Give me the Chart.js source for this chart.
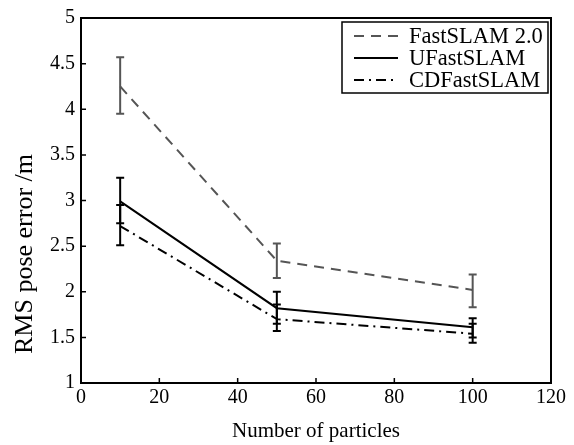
<!DOCTYPE html>
<html>
<head>
<meta charset="utf-8">
<script src="https://cdn.jsdelivr.net/npm/chart.js@4"></script>
<style>
  html, body { margin: 0; padding: 0; background: #fff; }
  #wrap { width: 574px; height: 445px; }
</style>
</head>
<body>
<div id="wrap"><canvas id="grafica" width="574" height="445"></canvas></div>
<script>
// Datos
const particulas = [10, 50, 100];
const nombres = ['FastSLAM 2.0', 'UFastSLAM', 'CDFastSLAM'];
const tituloY = 'RMS pose error /m';

const fastMedia = [4.25, 2.34, 2.02];
const fastMin = [3.95, 2.15, 1.83];
const fastMax = [4.57, 2.53, 2.19];

const ufastMedia = [2.99, 1.82, 1.61];
const ufastMin = [2.75, 1.65, 1.50];
const ufastMax = [3.25, 2.00, 1.71];

const cdMedia = [2.72, 1.70, 1.54];
const cdMin = [2.51, 1.57, 1.44];
const cdMax = [2.95, 1.86, 1.65];

const fuente = "'Liberation Serif', 'Times New Roman', serif";

function puntos(ys) {
  return particulas.map((x, i) => ({ x: x, y: ys[i] }));
}

// Barras de error, marco, titulo Y y leyenda
const extras = {
  id: 'extras',
  afterDatasetsDraw(chart) {
    const ctx = chart.ctx;
    const xs = chart.scales.x, ys = chart.scales.y;
    const area = chart.chartArea;
    ctx.save();

    // barras de error
    chart.data.datasets.forEach(ds => {
      ctx.strokeStyle = ds.borderColor;
      ctx.lineWidth = 2;
      ctx.setLineDash([]);
      particulas.forEach((x, i) => {
        const px = xs.getPixelForValue(x);
        const y1 = ys.getPixelForValue(ds.bajos[i]);
        const y2 = ys.getPixelForValue(ds.altos[i]);
        ctx.beginPath();
        ctx.moveTo(px, y1); ctx.lineTo(px, y2);
        ctx.moveTo(px - 4, y1); ctx.lineTo(px + 4, y1);
        ctx.moveTo(px - 4, y2); ctx.lineTo(px + 4, y2);
        ctx.stroke();
      });
    });

    // marco
    ctx.strokeStyle = '#000';
    ctx.lineWidth = 2;
    ctx.strokeRect(area.left, area.top, area.right - area.left, area.bottom - area.top);

    // marcas hacia dentro
    ctx.lineWidth = 1.5;
    ctx.beginPath();
    xs.ticks.forEach(t => {
      const px = xs.getPixelForValue(t.value);
      ctx.moveTo(px, area.bottom); ctx.lineTo(px, area.bottom - 5);
    });
    ys.ticks.forEach(t => {
      const py = ys.getPixelForValue(t.value);
      ctx.moveTo(area.left, py); ctx.lineTo(area.left + 5, py);
    });
    ctx.stroke();

    // titulo del eje Y
    ctx.fillStyle = '#000';
    ctx.font = '26px ' + fuente;
    ctx.textAlign = 'center';
    ctx.textBaseline = 'middle';
    ctx.translate(25, area.top + 236);
    ctx.rotate(-Math.PI / 2);
    ctx.fillText(tituloY, 0, 0);
    ctx.setTransform(1, 0, 0, 1, 0, 0);

    // leyenda
    const lx = area.right - 209, ly = area.top + 4, lw = 206, lh = 71;
    ctx.fillStyle = '#fff';
    ctx.fillRect(lx, ly, lw, lh);
    ctx.strokeStyle = '#000';
    ctx.lineWidth = 1.5;
    ctx.strokeRect(lx, ly, lw, lh);
    ctx.font = '22.5px ' + fuente;
    ctx.textAlign = 'left';
    ctx.textBaseline = 'middle';
    chart.data.datasets.forEach((ds, i) => {
      const cy = ly + 14 + i * 22;
      ctx.strokeStyle = ds.borderColor;
      ctx.lineWidth = 2;
      ctx.setLineDash(ds.borderDash || []);
      ctx.beginPath();
      ctx.moveTo(lx + 12, cy); ctx.lineTo(lx + 56, cy);
      ctx.stroke();
      ctx.setLineDash([]);
      ctx.fillStyle = '#000';
      ctx.fillText(ds.label, lx + 67, cy + 1);
    });
    ctx.restore();
  }
};

new Chart(document.getElementById('grafica'), {
  type: 'line',
  data: {
    datasets: [
      { label: nombres[0], data: puntos(fastMedia), bajos: fastMin, altos: fastMax,
        borderColor: '#555555', borderDash: [10, 7], borderWidth: 2 },
      { label: nombres[1], data: puntos(ufastMedia), bajos: ufastMin, altos: ufastMax,
        borderColor: '#000000', borderWidth: 2 },
      { label: nombres[2], data: puntos(cdMedia), bajos: cdMin, altos: cdMax,
        borderColor: '#000000', borderDash: [10, 5, 2, 5], borderWidth: 2 }
    ]
  },
  options: {
    animation: false,
    responsive: false,
    elements: {
      point: { radius: 0 },
      line: { tension: 0, fill: false }
    },
    layout: { padding: { top: 13, right: 23, left: 0, bottom: 0 } },
    plugins: { legend: { display: false }, tooltip: { enabled: false } },
    scales: {
      x: {
        type: 'linear', min: 0, max: 120,
        ticks: { stepSize: 20, padding: 3, color: '#000', font: { family: fuente, size: 20 } },
        grid: { display: false, drawTicks: false },
        border: { display: false },
        title: { display: true, text: 'Number of particles', color: '#000',
                 font: { family: fuente, size: 21 }, padding: { top: 0, bottom: 1 } },
        afterFit(s) { s.height = 62; }
      },
      y: {
        min: 1, max: 5,
        ticks: { stepSize: 0.5, padding: 6, color: '#000', font: { family: fuente, size: 20 },
                 callback: v => String(v) },
        grid: { display: false, drawTicks: false },
        border: { display: false },
        afterFit(s) { s.width = 81; }
      }
    }
  },
  plugins: [extras]
});
</script>
</body>
</html>
